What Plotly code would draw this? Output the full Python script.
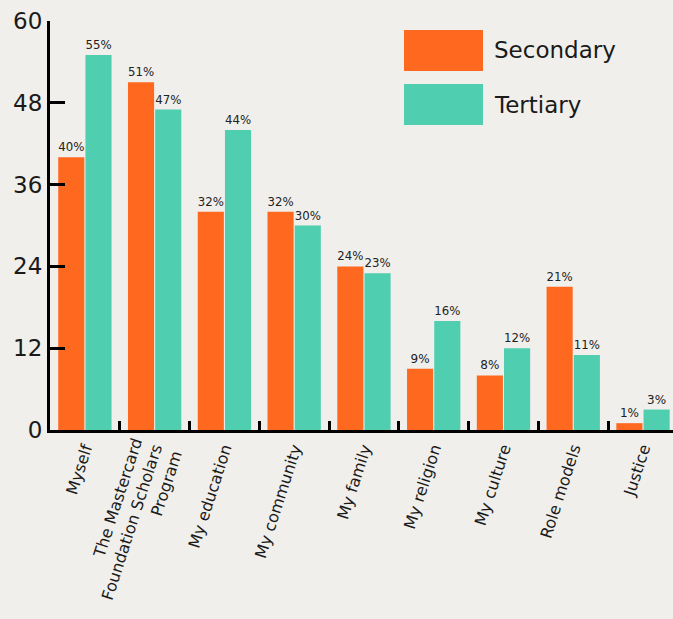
import plotly.graph_objects as go

categories = ["Myself", "The Mastercard<br>Foundation Scholars<br>Program", "My education",
              "My community", "My family", "My religion", "My culture", "Role models", "Justice"]
secondary = [40, 51, 32, 32, 24, 9, 8, 21, 1]
tertiary = [55, 47, 44, 30, 23, 16, 12, 11, 3]
series_names = ["Secondary", "Tertiary"]
colors = ["#FF681F", "#4FCEB0"]
y_ticks = [0, 12, 24, 36, 48, 60]

bg = "#F0EFEB"
FONT = "DejaVu Sans"
fig = go.Figure()
for name, vals, col in zip(series_names, [secondary, tertiary], colors):
    fig.add_trace(go.Bar(
        x=categories, y=vals, name=name, marker_color=col, marker_line_width=0,
        text=[f"{v}%" for v in vals], textposition="outside",
        textfont=dict(size=12, color="#222222", family=FONT),
        cliponaxis=False, showlegend=False,
    ))

fig.update_layout(
    width=673, height=619, paper_bgcolor=bg, plot_bgcolor=bg,
    margin=dict(l=50, r=0, t=21, b=189),
    barmode="group", bargap=0.22, bargroupgap=0.04,
    font=dict(family=FONT, color="#1a1a1a"),
)
fig.update_yaxes(range=[0, 60], tickvals=y_ticks, showgrid=False, zeroline=False,
                 showline=True, linecolor="black", linewidth=3,
                 ticks="inside", ticklen=15, tickwidth=3, tickcolor="black",
                 tickfont=dict(size=23, family=FONT, color="#1a1a1a"))
fig.update_xaxes(range=[-0.5, 8.43], showgrid=False, showline=True, linecolor="black", linewidth=3,
                 ticks="inside", tickson="boundaries", ticklen=9, tickwidth=3, tickcolor="black",
                 tickangle=-72, tickfont=dict(size=16, family=FONT, color="#1a1a1a"))

# legend drawn as decoration
leg = [("Secondary", colors[0], 30, 71), ("Tertiary", colors[1], 84, 125)]
H = 619
for name, col, y0, y1 in leg:
    fig.add_shape(type="rect", xref="paper", yref="paper",
                  x0=(404 - 50) / 623, x1=(483 - 50) / 623,
                  y0=(H - 189 - y1) / 409, y1=(H - 189 - y0) / 409,
                  fillcolor=col, line_width=0)
    fig.add_annotation(xref="paper", yref="paper", x=(492 - 50) / 623,
                       y=(H - 189 - (y0 + y1) / 2) / 409, text=name, showarrow=False,
                       xanchor="left", yanchor="middle",
                       font=dict(size=23, family=FONT, color="#1a1a1a"))

fig.write_html("out.html", config={"displayModeBar": False},
               post_script="document.body.style.margin='0';document.body.style.overflow='hidden';")
